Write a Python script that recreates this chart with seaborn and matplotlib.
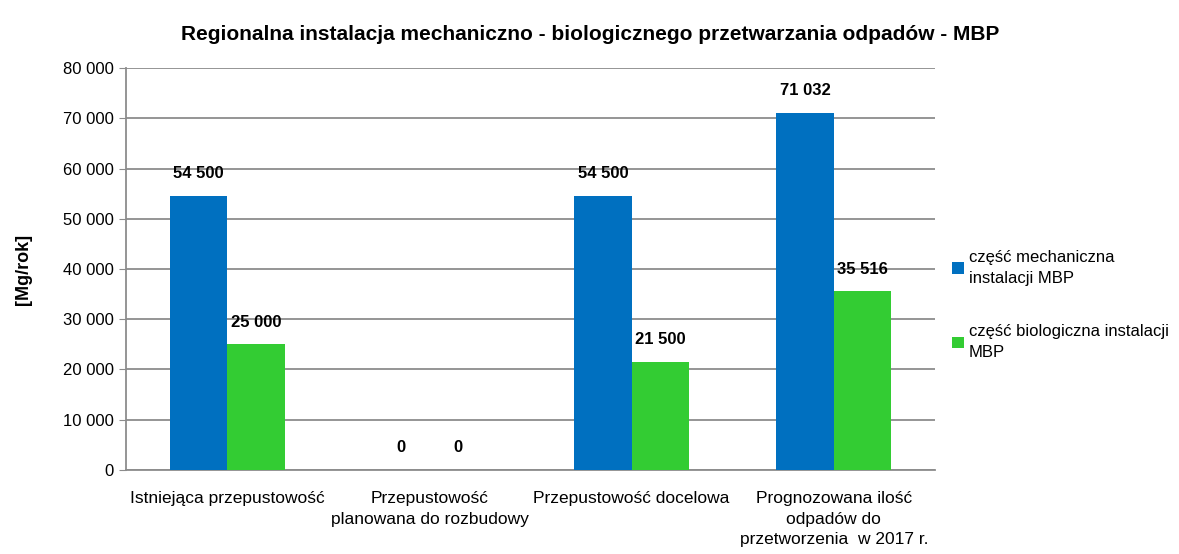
import pandas as pd
import matplotlib.pyplot as plt
import seaborn as sns
from matplotlib.ticker import FuncFormatter

plt.switch_backend('Agg')

# --------------------------
# Data
# --------------------------
categories = ['Istniejąca przepustowość',
              'Przepustowość\nplanowana do rozbudowy',
              'Przepustowość docelowa',
              'Prognozowana ilość\nodpadów do\nprzetworzenia  w 2017 r.']
series_names = ['część mechaniczna\ninstalacji MBP',
                'część biologiczna instalacji\nMBP']
mech_values = [54500, 0, 54500, 71032]
bio_values = [25000, 0, 21500, 35516]
colors = ['#0070C0', '#33CC33']

df = pd.DataFrame({
    'kategoria': categories * 2,
    'seria': [series_names[0]] * 4 + [series_names[1]] * 4,
    'wartosc': mech_values + bio_values,
})

# --------------------------
# Style
# --------------------------
sns.set_style('white')
plt.rcParams['font.family'] = ['Liberation Sans Narrow', 'Liberation Sans', 'DejaVu Sans']
plt.rcParams['text.color'] = 'black'
plt.rcParams['axes.labelcolor'] = 'black'
plt.rcParams['xtick.color'] = 'black'
plt.rcParams['ytick.color'] = 'black'

fig = plt.figure(figsize=(11.79, 5.54), dpi=100)
ax = fig.add_axes([0.107, 0.152, 0.686, 0.725])

sns.barplot(data=df, x='kategoria', y='wartosc', hue='seria',
            palette=colors, width=0.57, saturation=1, linewidth=0,
            ax=ax, zorder=3)

def fmt(v):
    return f'{int(v):,}'.replace(',', ' ')

# value labels above bars
for cont in ax.containers:
    for bar in cont:
        h = bar.get_height()
        ax.annotate(fmt(h), (bar.get_x() + bar.get_width() / 2, h),
                    xytext=(0, 16), textcoords='offset points',
                    ha='center', va='center', fontsize=12, fontweight='bold')

ax.set_ylim(0, 80000)
ax.set_yticks(range(0, 80001, 10000))
ax.yaxis.set_major_formatter(FuncFormatter(lambda v, p: fmt(v)))
ax.grid(axis='y', color='#8c8c8c', linewidth=1.3, zorder=0)
ax.set_axisbelow(True)

for s in ['top', 'right']:
    ax.spines[s].set_visible(False)
for s in ['left', 'bottom']:
    ax.spines[s].set_color('#8c8c8c')
    ax.spines[s].set_linewidth(1.3)

ax.tick_params(axis='y', left=True, length=5, color='#8c8c8c', labelsize=12, pad=4)
ax.tick_params(axis='x', bottom=False, labelsize=12.5, pad=12)
for lbl in ax.get_xticklabels():
    lbl.set_linespacing(1.45)
ax.set_xlabel('')
ax.set_ylabel('[Mg/rok]', fontsize=13, fontweight='bold', labelpad=22)

ax.set_title('Regionalna instalacja mechaniczno - biologicznego przetwarzania odpadów - MBP',
             fontsize=15, fontweight='bold', pad=20, x=0.574)

leg = ax.legend(loc='center left', bbox_to_anchor=(1.003, 0.41), frameon=False,
                fontsize=12, handlelength=0.7, handleheight=0.7, handletextpad=0.3,
                labelspacing=2.3)
for t in leg.get_texts():
    t.set_linespacing(1.5)

plt.savefig('out.png', dpi=100)
plt.close()
